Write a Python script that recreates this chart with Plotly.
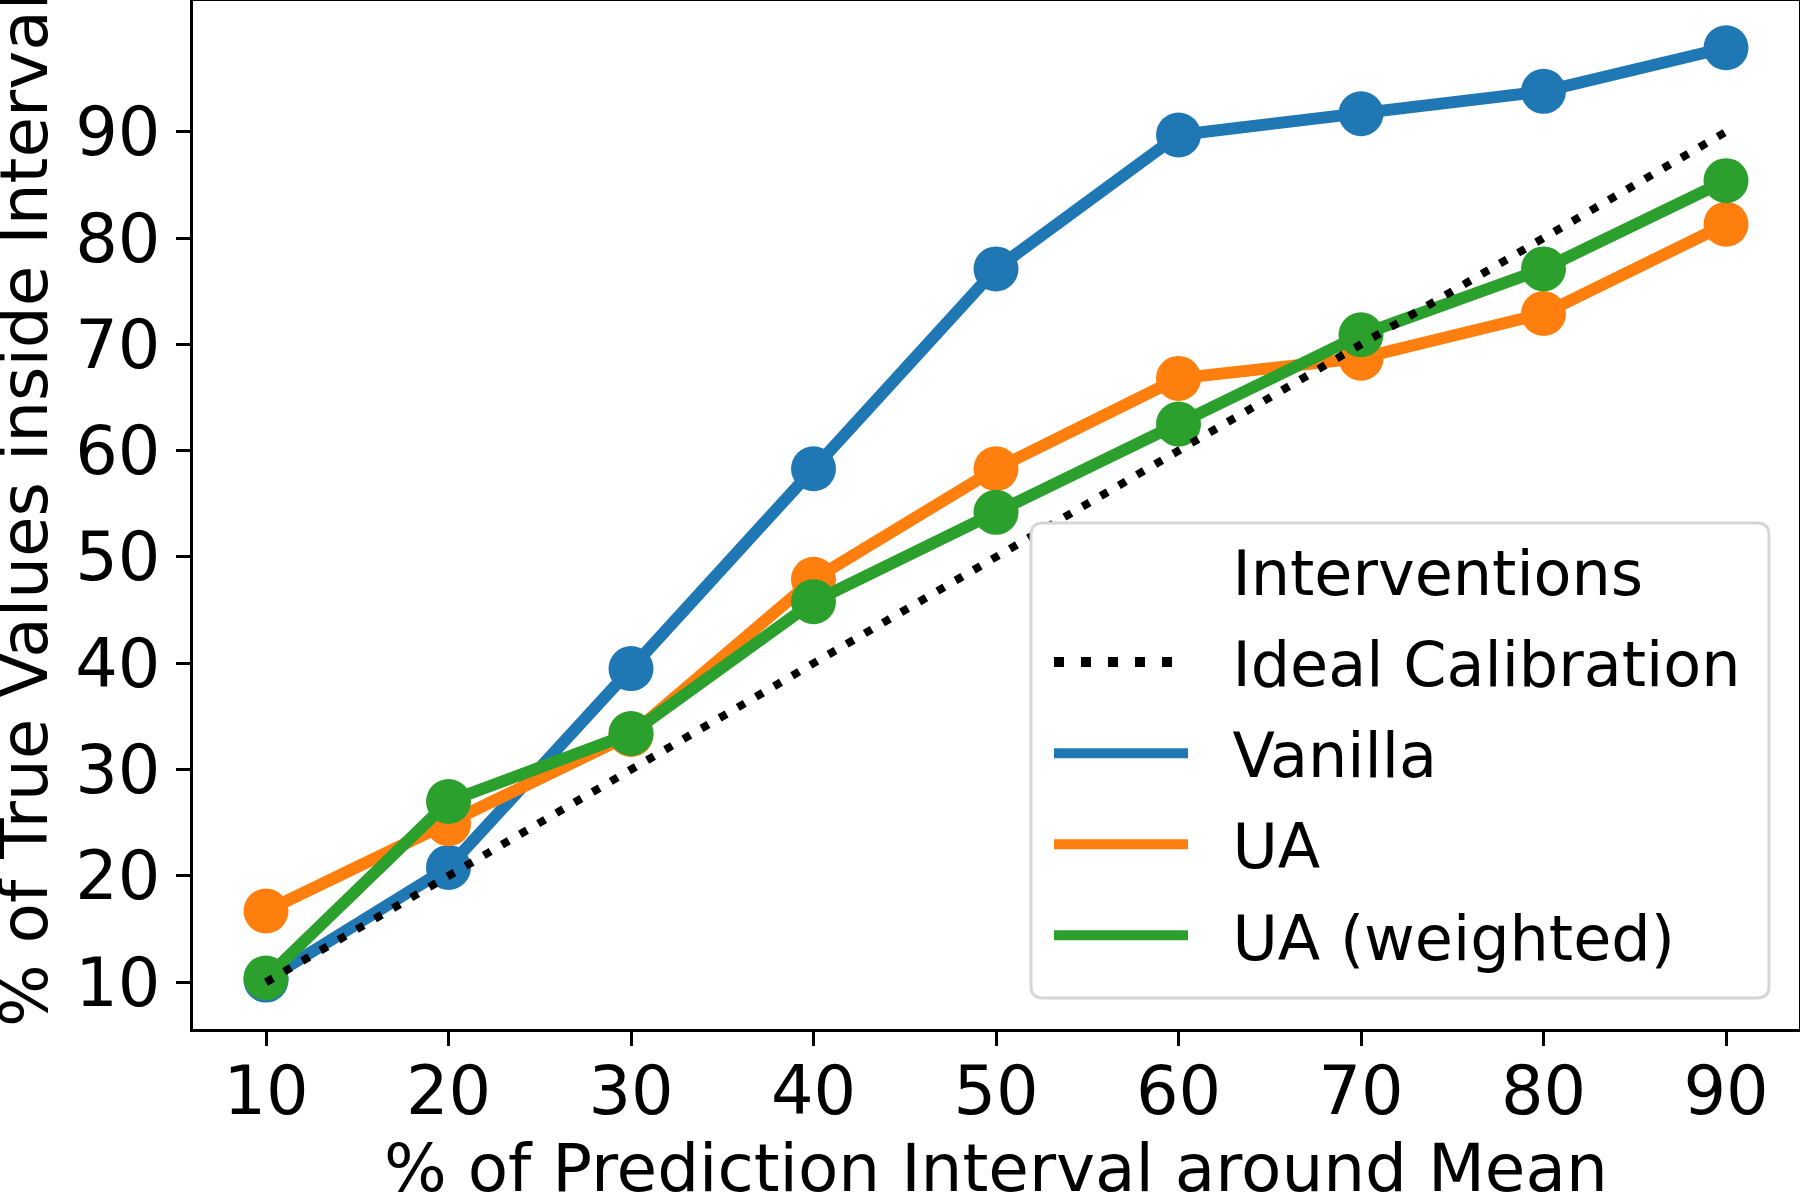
import plotly.graph_objects as go

# % of prediction interval around the mean
intervals = [10, 20, 30, 40, 50, 60, 70, 80, 90]

# % of true values inside the interval, per intervention
vanilla = [10.2, 20.8, 39.5, 58.3, 77.1, 89.7, 91.7, 93.8, 97.9]
ua = [16.7, 24.9, 33.3, 47.9, 58.3, 66.8, 68.7, 72.9, 81.3]
ua_weighted = [10.4, 27.0, 33.4, 45.8, 54.2, 62.5, 70.9, 77.1, 85.4]
ideal = [10, 20, 30, 40, 50, 60, 70, 80, 90]

series_names = ["Vanilla", "UA", "UA (weighted)"]
series_colors = ["#1f77b4", "#ff7f0e", "#2ca02c"]

tick_vals = [10, 20, 30, 40, 50, 60, 70, 80, 90]

W, H = 1800, 1200
ML, MR, MT, MB = 193, 1, 1, 171


def px_to_paper(x, y):
    # pixels de la page -> coordonnées "paper" de la zone de tracé
    pw, ph = W - ML - MR, H - MT - MB
    return (x - ML) / pw, 1 - (y - MT) / ph


def rounded_box(x0, y0, x1, y1, r):
    # cadre à coins arrondis (style légende matplotlib), en pixels
    a = px_to_paper(x0 + r, y0)
    pts = [
        ("M", x0 + r, y0), ("L", x1 - r, y0), ("Q", x1, y0, x1, y0 + r),
        ("L", x1, y1 - r), ("Q", x1, y1, x1 - r, y1), ("L", x0 + r, y1),
        ("Q", x0, y1, x0, y1 - r), ("L", x0, y0 + r), ("Q", x0, y0, x0 + r, y0),
    ]
    path = ""
    for p in pts:
        cmd, coords = p[0], p[1:]
        xy = []
        for i in range(0, len(coords), 2):
            px, py = px_to_paper(coords[i], coords[i + 1])
            xy.append(f"{px:.5f},{py:.5f}")
        path += cmd + " ".join(xy) + " "
    return path + "Z"


def main():
    font = "DejaVu Sans"
    fig = go.Figure()

    # Courbes avec marqueurs (sans entrée de légende)
    for name, vals, color in zip(series_names, [vanilla, ua, ua_weighted], series_colors):
        fig.add_trace(go.Scatter(
            x=intervals, y=vals, mode="lines+markers", name=name,
            line=dict(color=color, width=12),
            marker=dict(color=color, size=45),
            showlegend=False,
        ))

    # Diagonale de calibration idéale, dessinée au-dessus
    fig.add_trace(go.Scatter(
        x=intervals, y=ideal, mode="lines", name="Ideal Calibration",
        line=dict(color="black", width=8, dash="8px,13px"),
        showlegend=False,
    ))

    # Entrées de légende (lignes seules, comme seaborn) ; espaces insécables
    # pour décaler le texte par rapport au trait
    pad = "\u00a0\u00a0"
    legend_items = [("Interventions", "rgba(0,0,0,0)", None),
                    ("Ideal Calibration", "black", "10px,17px")]
    legend_items += [(n, c, None) for n, c in zip(series_names, series_colors)]
    for rank, (name, color, dash) in enumerate(legend_items):
        fig.add_trace(go.Scatter(
            x=[None], y=[None], mode="lines", name=pad + name,
            line=dict(color=color, width=12 if dash is None else 10, dash=dash),
            legendrank=rank + 1, legendgroup=name,
        ))

    axis_common = dict(
        showline=True, linecolor="black", linewidth=3.3, mirror=True,
        ticks="outside", ticklen=14, tickwidth=3.3, tickcolor="black",
        showgrid=False, zeroline=False, automargin=False,
        tickfont=dict(family=font, size=67, color="black"),
        tickmode="array", tickvals=tick_vals,
    )

    fig.update_layout(
        width=W, height=H,
        margin=dict(l=ML, r=MR, t=MT, b=MB),
        paper_bgcolor="white", plot_bgcolor="white",
        font=dict(family=font, size=62, color="black"),
        xaxis=dict(range=[6, 94], ticklabelstandoff=-13, **axis_common),
        yaxis=dict(range=[5.6, 102.3], ticklabelstandoff=2, **axis_common),
        legend=dict(
            x=0.533, y=0.4911, xanchor="left", yanchor="top",
            borderwidth=0, bgcolor="rgba(0,0,0,0)",
            font=dict(family=font, size=62, color="black"),
            itemwidth=134, tracegroupgap=7.5, traceorder="grouped",
        ),
    )

    # Cadre de légende arrondi, fond blanc
    fig.add_shape(
        type="path", path=rounded_box(1031, 523, 1769, 998, 12),
        xref="paper", yref="paper", layer="above",
        fillcolor="white", line=dict(color="#d6d6d6", width=3),
    )

    # Titres d'axes en annotations (coupés au bord comme dans l'original)
    fig.add_annotation(
        text="% of Prediction Interval around Mean",
        xref="paper", yref="paper", x=0.5, y=-0.1751,
        xanchor="center", yanchor="bottom", showarrow=False,
        font=dict(family=font, size=66, color="black"),
    )
    fig.add_annotation(
        text="% of True Values inside Interval",
        xref="paper", yref="paper", x=-0.0793, y=0.5049,
        xanchor="right", yanchor="middle", textangle=-90, showarrow=False,
        font=dict(family=font, size=66, color="black"),
    )

    fig.write_html("out.html", config={"displayModeBar": False},
                   post_script="document.body.style.margin='0';")


if __name__ == "__main__":
    main()
